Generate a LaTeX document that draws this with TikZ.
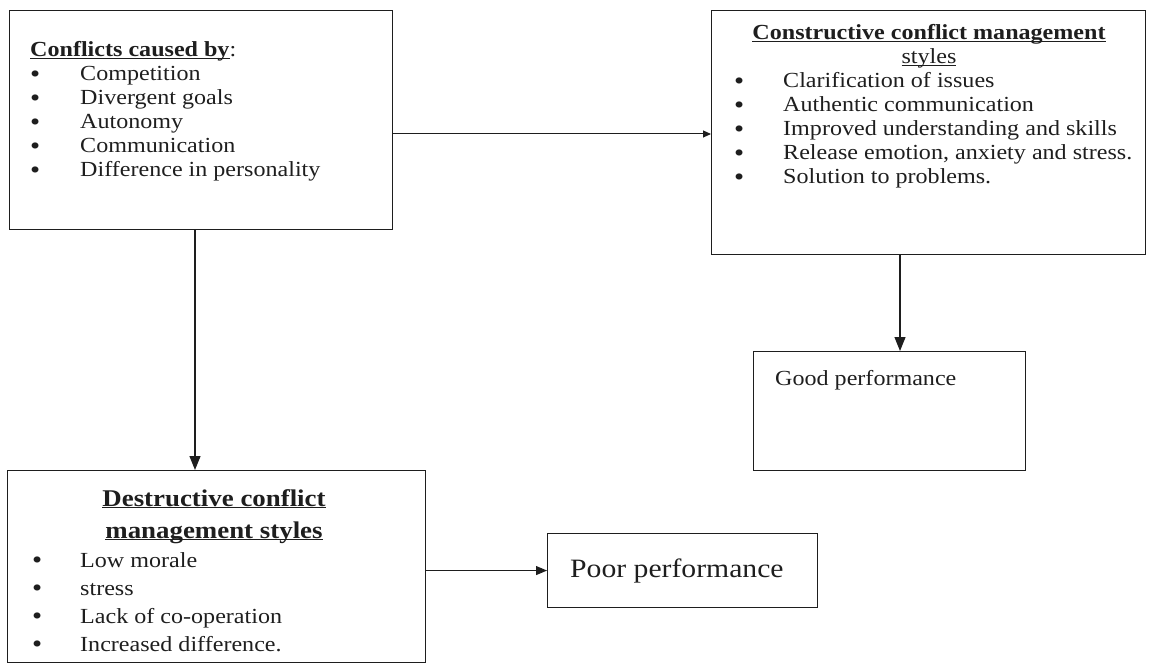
\documentclass[tikz,border=0pt]{standalone}
\usepackage{fontspec}
\setmainfont{Liberation Serif}[FakeStretch=1.12]
\usetikzlibrary{arrows.meta}
\definecolor{ink}{RGB}{30,30,30}
\newcommand\ulhead[1]{\underline{\smash{#1}}}
\newcommand\bul{\smash{\raisebox{-0.06em}{\scalebox{1.2}{\textbullet}}}}
\begin{document}
\begin{tikzpicture}[x=1pt,y=-1pt,
  box/.style={draw=ink, line width=1.1pt, inner sep=0pt, anchor=north west},
  txt/.style={inner sep=0pt, anchor=base west, text=ink, font=\fontsize{21.5}{24}\selectfont},
  arrv/.style={draw=ink, line width=1.2pt, -{Triangle[length=14pt,width=11pt]}},
  arrh/.style={draw=ink, line width=1pt, -{Triangle[length=8pt,width=7pt]}},
  arrp/.style={draw=ink, line width=1pt, -{Triangle[length=11pt,width=9pt]}}]
\useasboundingbox (0,0) rectangle (1151,663);

% boxes
\node[box, minimum width=383pt, minimum height=219pt] (causes) at (9,10) {};
\node[box, minimum width=434pt, minimum height=244pt] (cons) at (711,10) {};
\node[box, minimum width=272pt, minimum height=119pt] (good) at (753,351) {};
\node[box, minimum width=418pt, minimum height=192pt] (dest) at (7,470) {};
\node[box, minimum width=270pt, minimum height=74pt] (poor) at (547,533) {};

% box 1 text
\node[txt] (causestext) at (30,57) {\begin{tabular}[t]{@{}p{50pt}@{}l@{}}
\multicolumn{2}{@{}l@{}}{\textbf{\ulhead{Conflicts caused by}}:}\\
\bul & Competition\\
\bul & Divergent goals\\
\bul & Autonomy\\
\bul & Communication\\
\bul & Difference in personality
\end{tabular}};

% constructive text
\node[txt, anchor=base] (constitle) at (929,40) {\begin{tabular}[t]{@{}c@{}}
\textbf{\ulhead{Constructive conflict management}}\\
\ulhead{styles}
\end{tabular}};
\node[txt] (consitems) at (734,88) {\begin{tabular}[t]{@{}p{49pt}@{}l@{}}
\bul & Clarification of issues\\
\bul & Authentic communication\\
\bul & Improved understanding and skills\\
\bul & Release emotion, anxiety and stress.\\
\bul & Solution to problems.
\end{tabular}};

% good performance
\node[txt] (goodtext) at (775,385) {Good performance};

% destructive text
\node[txt, anchor=base, font=\fontsize{24}{32}\selectfont] (desttitle) at (214,506) {\begin{tabular}[t]{@{}c@{}}
\textbf{\ulhead{Destructive conflict}}\\
\textbf{\ulhead{management styles}}
\end{tabular}};
\node[txt, font=\fontsize{21.5}{28}\selectfont] (destitems) at (32,567) {\begin{tabular}[t]{@{}p{48pt}@{}l@{}}
\bul & Low morale\\
\bul & stress\\
\bul & Lack of co-operation\\
\bul & Increased difference.
\end{tabular}};

% poor performance
\node[txt, font=\fontsize{26.5}{30}\selectfont] (poortext) at (570,577) {Poor performance};

% connectors
\coordinate (vl) at (195,0);
\coordinate (hl) at (0,134);
\coordinate (vr) at (900,0);
\draw[arrv] (causes.south -| vl) -- (dest.north -| vl);
\draw[arrh] (causes.east |- hl) -- (cons.west |- hl);
\draw[arrv] (cons.south -| vr) -- (good.north -| vr);
\draw[arrp] (dest.east |- poor.west) -- (poor.west);
\end{tikzpicture}
\end{document}
